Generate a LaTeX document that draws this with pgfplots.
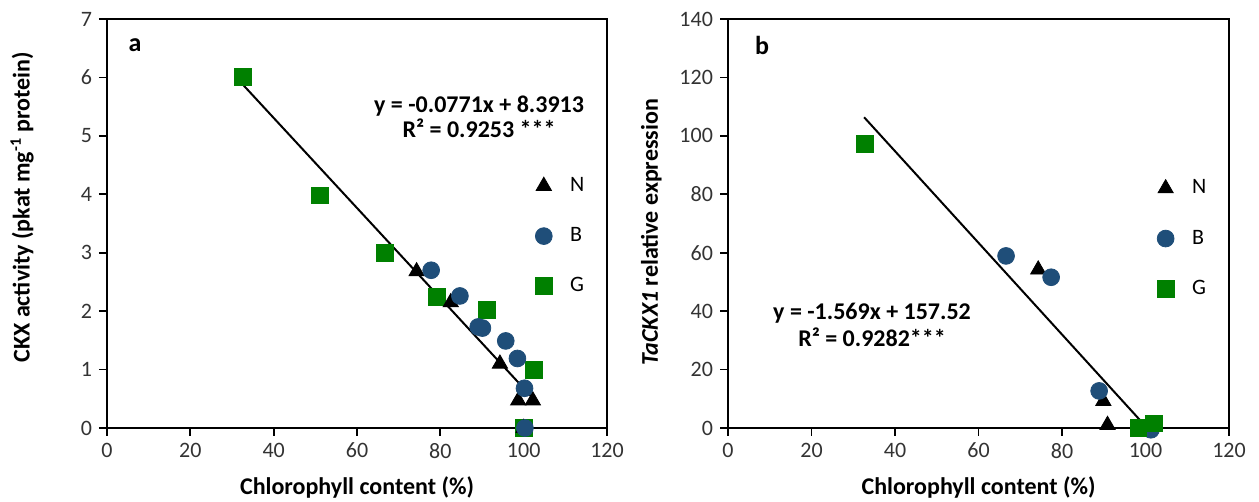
\documentclass[border=0pt]{standalone}
\usepackage{pgfplots}
\pgfplotsset{compat=1.18}
\usepackage{fontspec}
\setmainfont{Carlito}
\definecolor{gG}{RGB}{0,128,0}
\definecolor{bB}{RGB}{31,78,121}

\pgfplotsset{
  myaxis/.style={
    scale only axis, width=250pt, height=204.5pt,
    xmin=0, xmax=120,
    xtick={0,20,...,120},
    tick align=outside, tick pos=left,
    major tick length=4pt,
    axis line style={line width=0.9pt},
    every tick/.style={line width=0.9pt, black},
    /pgf/number format/assume math mode=true,
    tick label style={font=\fontsize{11}{13}\selectfont, color=black!80},
    label style={font=\bfseries\fontsize{12}{14}\selectfont},
    xlabel={Chlorophyll content (\%)},
    xlabel style={at={(axis description cs:0.5,0)}, anchor=center, yshift=-29.5pt},
    clip=false,
    legend style={draw=none, fill=none, font=\fontsize{11}{13}\selectfont, row sep=12.5pt, anchor=west,
      /tikz/column 1/.style={column sep=7pt}},
    legend cell align=left,
  },
  Nst/.style={only marks, mark=triangle*, mark size=4.4pt, black, mark options={fill=black, draw=black}},
  Bst/.style={only marks, mark=*, mark size=4.2pt, bB, mark options={fill=bB, draw=bB}},
  Gst/.style={only marks, mark=square*, mark size=4.2pt, gG, mark options={fill=gG, draw=gG}},
}

\begin{document}
\begin{tikzpicture}
\useasboundingbox (0,0) rectangle (629.5pt,251pt);

% Panel a
\begin{axis}[myaxis,
  at={(53.5pt,37pt)}, anchor=south west,
  ymin=0, ymax=7, ytick={0,1,...,7},
  ylabel={CKX activity (pkat mg\textsuperscript{-1} protein)},
  ylabel style={at={(axis description cs:-0.17,0.54)}, anchor=center},
  legend style={at={(axis description cs:0.844,0.469)}},
]
\addlegendimage{Nst}\addlegendentry{N}
\addlegendimage{Bst}\addlegendentry{B}
\addlegendimage{Gst}\addlegendentry{G}
\addplot[Gst, forget plot] coordinates {
 (32.6,6.01) (51.1,3.98) (66.7,3.0) (79.1,2.25) (91.1,2.02) (102.5,0.99) (100,0)
};
\addplot[Nst, forget plot] coordinates {
 (74.3,2.68) (82.5,2.15) (94.3,1.10) (98.7,0.47) (102.2,0.47) (100,0)
};
\addplot[Bst, forget plot] coordinates {
 (77.8,2.70) (84.7,2.26) (89.1,1.73) (90.1,1.71) (95.7,1.49) (98.5,1.19) (100.2,0.68) (100.3,0)
};
\addplot[black, line width=1pt, no marks, forget plot] coordinates {(32.6,5.878) (102,0.527)};
\node[align=center, font=\bfseries\fontsize{12}{12.5}\selectfont] at (axis cs:89.3,5.32) {y = -0.0771x + 8.3913\\R² = 0.9253 ***};
\node[font=\bfseries\fontsize{13}{15}\selectfont] at (axis description cs:0.056,0.936) {a};
\end{axis}

% Panel b
\begin{axis}[myaxis,
  at={(364pt,37pt)}, anchor=south west, width=250.5pt,
  ymin=0, ymax=140, ytick={0,20,...,140},
  ylabel={\textit{TaCKX1} relative expression},
  ylabel style={at={(axis description cs:-0.153,0.479)}, anchor=center},
  legend style={at={(axis description cs:0.844,0.463)}},
]
\addlegendimage{Nst}\addlegendentry{N}
\addlegendimage{Bst}\addlegendentry{B}
\addlegendimage{Gst}\addlegendentry{G}
\addplot[Nst, forget plot] coordinates {
 (74.3,54.2) (89.9,9.2) (90.9,1.0)
};
\addplot[Bst, forget plot] coordinates {
 (66.6,58.9) (77.4,51.6) (88.9,12.7) (101.3,-0.6)
};
\addplot[Gst, forget plot] coordinates {
 (32.8,97.3) (98.3,0) (102.1,1.6)
};
\addplot[black, line width=1pt, no marks, forget plot] coordinates {(32.6,106.37) (100.4,0)};
\node[align=center, font=\bfseries\fontsize{12}{13.5}\selectfont] at (axis cs:34.5,35.4) {y = -1.569x + 157.52\\R² = 0.9282***};
\node[font=\bfseries\fontsize{13}{15}\selectfont] at (axis description cs:0.068,0.936) {b};
\end{axis}
\end{tikzpicture}
\end{document}
